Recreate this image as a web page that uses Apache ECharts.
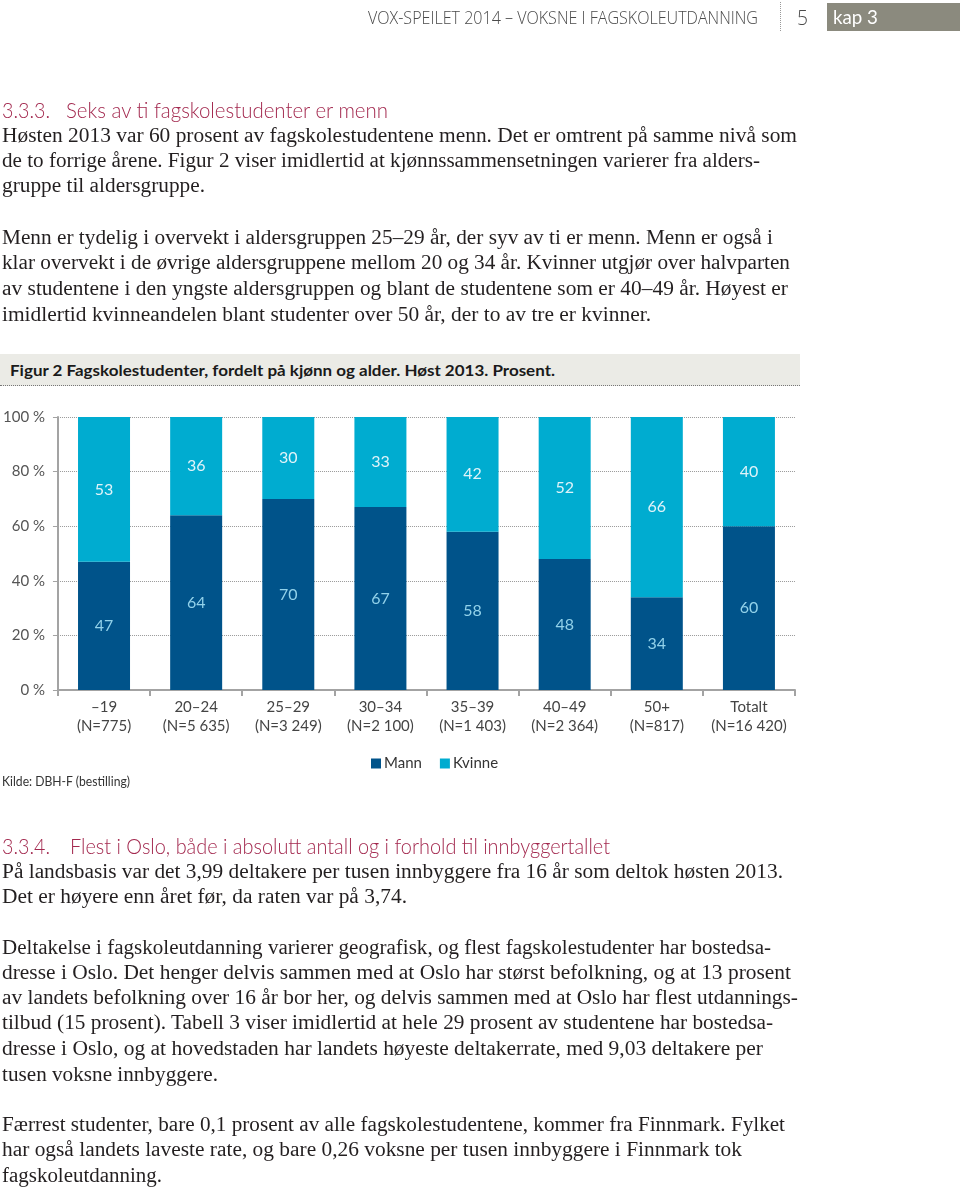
<!DOCTYPE html>
<html><head><meta charset="utf-8">
<script src="https://cdn.jsdelivr.net/npm/echarts@6/dist/echarts.min.js"></script>
<style>
html,body{margin:0;padding:0;background:#fff;}
#page{position:relative;width:960px;height:1190px;overflow:hidden;}
#chart{position:absolute;left:0;top:0;width:960px;height:1190px;}
.t{position:absolute;white-space:nowrap;transform-origin:0 50%;}
.body{font-family:"Liberation Serif","Times New Roman",serif;font-size:20px;line-height:25px;color:#231f20;left:2px;}
.h{font-family:Lato,"Open Sans",sans-serif;font-weight:300;font-size:21px;line-height:26px;color:#a3294f;}
.hdr{font-family:"Open Sans",Lato,sans-serif;font-weight:300;font-size:18px;line-height:24px;color:#4a4a4a;}
</style></head>
<body>
<div id="page">
<div id="chart"></div>

<div class="t hdr" style="left:368px;top:5px" data-w="390">VOX-SPEILET 2014 – VOKSNE I FAGSKOLEUTDANNING</div>
<div style="position:absolute;left:780px;top:2px;height:29px;border-left:1px dotted #999"></div>
<div class="t hdr" style="left:797px;top:3px;font-size:21px;line-height:28px" data-w="11">5</div>
<div style="position:absolute;left:827px;top:3px;width:133px;height:28px;background:#8b8a7e"></div>
<div class="t" style="left:833px;top:3px;font-family:Lato,'Open Sans',sans-serif;font-size:19px;line-height:28px;color:#fff" data-w="45">kap 3</div>

<div class="t h" style="left:2px;top:97px" data-w="48">3.3.3.</div>
<div class="t h" style="left:66px;top:97px" data-w="322">Seks av ti fagskolestudenter er menn</div>

<div class="t body" style="top:123px" data-w="795">Høsten 2013 var 60 prosent av fagskolestudentene menn. Det er omtrent på samme nivå som</div>
<div class="t body" style="top:148px" data-w="758">de to forrige årene. Figur 2 viser imidlertid at kjønnssammensetningen varierer fra alders-</div>
<div class="t body" style="top:173px" data-w="203">gruppe til aldersgruppe.</div>
<div class="t body" style="top:225px" data-w="771">Menn er tydelig i overvekt i aldersgruppen 25–29 år, der syv av ti er menn. Menn er også i</div>
<div class="t body" style="top:250px" data-w="788">klar overvekt i de øvrige aldersgruppene mellom 20 og 34 år. Kvinner utgjør over halvparten</div>
<div class="t body" style="top:276px" data-w="786">av studentene i den yngste aldersgruppen og blant de studentene som er 40–49 år. Høyest er</div>
<div class="t body" style="top:302px" data-w="649">imidlertid kvinneandelen blant studenter over 50 år, der to av tre er kvinner.</div>

<div style="position:absolute;left:0;top:354px;width:800px;height:31px;background:#ebebe6;border-bottom:1px dotted #777"></div>
<div class="t" style="left:10px;top:358px;font-family:Lato,'Open Sans',sans-serif;font-weight:700;font-size:16px;line-height:24px;color:#1a1a1a" data-w="545">Figur 2 Fagskolestudenter, fordelt på kjønn og alder. Høst 2013. Prosent.</div>

<div class="t" style="left:2px;top:772px;font-family:Lato,'Open Sans',sans-serif;font-size:13px;line-height:18px;color:#333" data-w="128">Kilde: DBH-F (bestilling)</div>

<div class="t h" style="left:2px;top:833px" data-w="48">3.3.4.</div>
<div class="t h" style="left:70px;top:833px" data-w="540">Flest i Oslo, både i absolutt antall og i forhold til innbyggertallet</div>

<div class="t body" style="top:859px" data-w="781">På landsbasis var det 3,99 deltakere per tusen innbyggere fra 16 år som deltok høsten 2013.</div>
<div class="t body" style="top:884px" data-w="405">Det er høyere enn året før, da raten var på 3,74.</div>
<div class="t body" style="top:935px" data-w="769">Deltakelse i fagskoleutdanning varierer geografisk, og flest fagskolestudenter har bostedsa-</div>
<div class="t body" style="top:960px" data-w="789">dresse i Oslo. Det henger delvis sammen med at Oslo har størst befolkning, og at 13 prosent</div>
<div class="t body" style="top:985px" data-w="796">av landets befolkning over 16 år bor her, og delvis sammen med at Oslo har flest utdannings-</div>
<div class="t body" style="top:1010px" data-w="771">tilbud (15 prosent). Tabell 3 viser imidlertid at hele 29 prosent av studentene har bostedsa-</div>
<div class="t body" style="top:1036px" data-w="761">dresse i Oslo, og at hovedstaden har landets høyeste deltakerrate, med 9,03 deltakere per</div>
<div class="t body" style="top:1062px" data-w="216">tusen voksne innbyggere.</div>
<div class="t body" style="top:1112px" data-w="783">Færrest studenter, bare 0,1 prosent av alle fagskolestudentene, kommer fra Finnmark. Fylket</div>
<div class="t body" style="top:1137px" data-w="740">har også landets laveste rate, og bare 0,26 voksne per tusen innbyggere i Finnmark tok</div>
<div class="t body" style="top:1163px" data-w="160">fagskoleutdanning.</div>
</div>

<script>
// ---- Data ----
const categories = ['–19', '20–24', '25–29', '30–34', '35–39', '40–49', '50+', 'Totalt'];
const nLabels = ['(N=775)', '(N=5 635)', '(N=3 249)', '(N=2 100)', '(N=1 403)', '(N=2 364)', '(N=817)', '(N=16 420)'];
const mann = [47, 64, 70, 67, 58, 48, 34, 60];
const kvinne = [53, 36, 30, 33, 42, 52, 66, 40];
const seriesNames = ['Mann', 'Kvinne'];
const yMin = 0, yMax = 100, yStep = 20;

const chart = echarts.init(document.getElementById('chart'), null, {renderer: 'canvas'});
const font = 'Lato, "Open Sans", sans-serif';
const axisGray = '#a3a3a3';
chart.setOption({
  animation: false,
  color: ['#00538a', '#00acd0'],
  grid: {left: 57, top: 417, width: 738, height: 273, containLabel: false},
  legend: {
    data: seriesNames, left: 366, top: 751, icon: 'rect', itemWidth: 10, itemHeight: 10, itemGap: 18,
    textStyle: {fontFamily: font, fontSize: 15, color: '#333', padding: [0, 0, 0, -2]}
  },
  xAxis: {
    type: 'category',
    data: categories.map((c, i) => c + '\n' + nLabels[i]),
    axisLine: {lineStyle: {color: axisGray, width: 2}},
    axisTick: {show: true, length: 6, lineStyle: {color: axisGray, width: 2}},
    axisLabel: {fontFamily: font, fontSize: 15, color: '#444', lineHeight: 19, margin: 8, interval: 0}
  },
  yAxis: {
    type: 'value', min: yMin, max: yMax, interval: yStep,
    axisLine: {show: true, lineStyle: {color: axisGray, width: 2}},
    axisTick: {show: true, length: 5, lineStyle: {color: axisGray, width: 1}},
    splitLine: {lineStyle: {type: 'dotted', color: '#999', width: 1}},
    axisLabel: {formatter: '{value} %', fontFamily: font, fontSize: 15, color: '#555', margin: 13}
  },
  series: [
    {name: seriesNames[0], type: 'bar', stack: 'a', data: mann, barWidth: 52,
     label: {show: true, position: 'inside', fontFamily: font, fontSize: 16, color: '#92d2ea'}},
    {name: seriesNames[1], type: 'bar', stack: 'a', data: kvinne, barWidth: 52,
     label: {show: true, position: 'inside', fontFamily: font, fontSize: 16, color: '#dff3f9'}}
  ]
});

function fit() {
  document.querySelectorAll('[data-w]').forEach(el => {
    el.style.transform = 'none';
    const w = el.getBoundingClientRect().width;
    if (w > 0) el.style.transform = 'scaleX(' + (parseFloat(el.dataset.w) / w) + ')';
  });
}
fit();
if (document.fonts && document.fonts.ready) document.fonts.ready.then(fit);
</script>
</body></html>
